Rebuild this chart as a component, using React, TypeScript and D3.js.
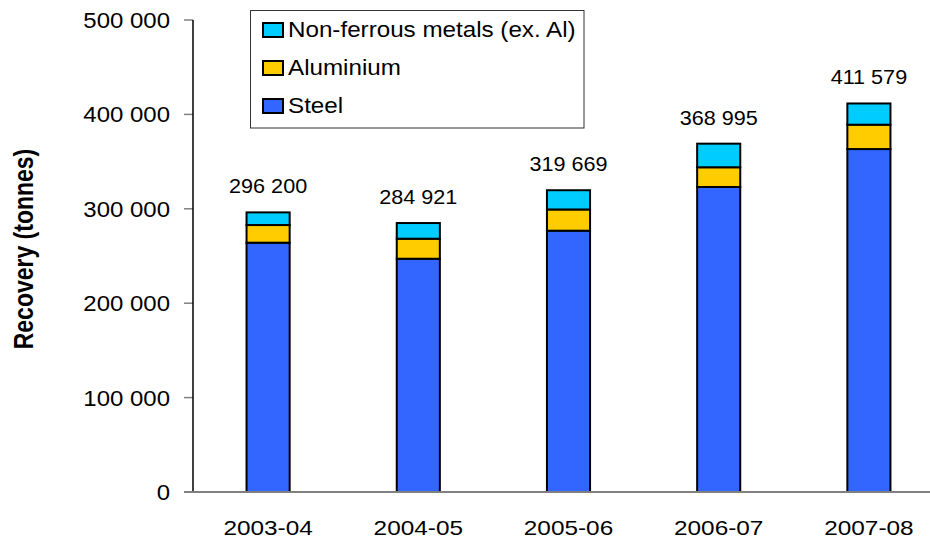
import React from 'react';
import * as d3 from 'd3';

// Data
const years = ['2003-04', '2004-05', '2005-06', '2006-07', '2007-08'];
const steel = [264100, 247100, 276800, 323100, 363300];
const aluminium = [18700, 21200, 22500, 20900, 25800];
const nonFerrous = [13400, 16621, 20369, 24995, 22479];
const totals = [296200, 284921, 319669, 368995, 411579];
const yTicks = [0, 100000, 200000, 300000, 400000, 500000];

const seriesKeys = ['steel', 'aluminium', 'nonFerrous'] as const;
const seriesNames: Record<string, string> = {
  steel: 'Steel',
  aluminium: 'Aluminium',
  nonFerrous: 'Non-ferrous metals (ex. Al)',
};
const colors: Record<string, string> = {
  steel: '#3366FF',
  aluminium: '#FFCC00',
  nonFerrous: '#00CCFF',
};
const legendOrder = ['nonFerrous', 'aluminium', 'steel'];

const W = 930, H = 542;
const margin = { top: 20, left: 193, bottom: 50 };
const font = '"Liberation Sans", Arial, sans-serif';

const fmt = d3.formatLocale({ decimal: '.', thousands: ' ', grouping: [3], currency: ['', ''] }).format(',d');

export default function App() {
  const rows = years.map((y, i) => ({
    year: y,
    steel: steel[i],
    aluminium: aluminium[i],
    nonFerrous: nonFerrous[i],
  }));
  const stacked = d3.stack<any>().keys(seriesKeys as unknown as string[])(rows);

  const x = d3.scaleBand().domain(years).range([margin.left, 944]).paddingInner(0.713).paddingOuter(0.3565);
  const y = d3.scaleLinear().domain([0, 500000]).range([H - margin.bottom, margin.top]);

  return (
    <svg width={W} height={H} style={{ position: 'absolute', left: 0, top: 0, background: '#fff' }} fontFamily={font}>
      {/* y axis title */}
      <g transform={`translate(33,249) scale(1.22,1) rotate(-90)`}>
        <text textAnchor="middle" fontSize={23} fontWeight="bold" fill="#000">Recovery (tonnes)</text>
      </g>

      {/* y ticks */}
      {yTicks.map(t => (
        <g key={t}>
          <line x1={184} x2={margin.left} y1={y(t)} y2={y(t)} stroke="#808080" strokeWidth={1.5} />
          <g transform={`translate(170,${y(t)}) scale(1.09,1)`}>
            <text textAnchor="end" dy="0.36em" fontSize={22} fill="#000">{fmt(t)}</text>
          </g>
        </g>
      ))}

      {/* bars */}
      {stacked.map(s => (
        <g key={s.key} fill={colors[s.key]} stroke="#000" strokeWidth={2}>
          {s.map((d, i) => (
            <rect key={i} x={x(years[i])!} width={x.bandwidth()} y={y(d[1])} height={y(d[0]) - y(d[1])} />
          ))}
        </g>
      ))}

      {/* axes lines */}
      <line x1={margin.left} x2={margin.left} y1={y(500000)} y2={y(0)} stroke="#000" strokeWidth={1.5} />
      <line x1={184} x2={W} y1={y(0)} y2={y(0)} stroke="#808080" strokeWidth={2} />

      {/* total labels */}
      {totals.map((t, i) => (
        <g key={i} transform={`translate(${x(years[i])! + x.bandwidth() / 2},${y(t) - 19}) scale(1.03,1)`}>
          <text textAnchor="middle" fontSize={21} fill="#000">{fmt(t)}</text>
        </g>
      ))}

      {/* x labels */}
      {years.map(yr => (
        <g key={yr} transform={`translate(${x(yr)! + x.bandwidth() / 2},535) scale(1.16,1)`}>
          <text textAnchor="middle" fontSize={21} fill="#000">{yr}</text>
        </g>
      ))}

      {/* legend */}
      <rect x={250.5} y={10.5} width={333.5} height={117.5} fill="#fff" stroke="#333" strokeWidth={1} />
      {legendOrder.map((k, i) => (
        <g key={k} transform={`translate(263,${30 + i * 38})`}>
          <rect x={0} y={-7} width={20} height={14} fill={colors[k]} stroke="#000" strokeWidth={2} />
          <g transform="translate(25,7) scale(1.1,1)">
            <text fontSize={22} fill="#000">{seriesNames[k]}</text>
          </g>
        </g>
      ))}
    </svg>
  );
}
